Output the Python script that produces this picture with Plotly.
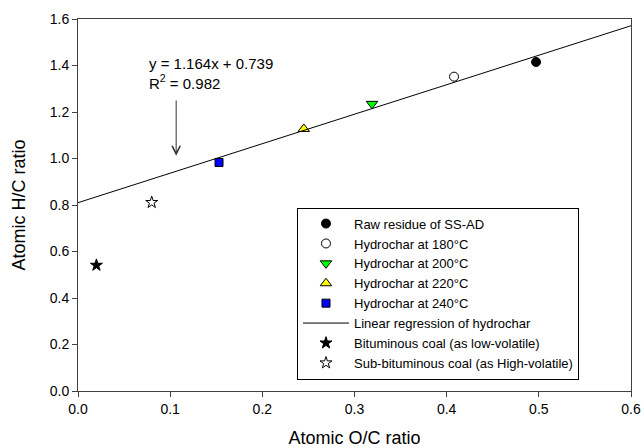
import plotly.graph_objects as go

# Data (atomic O/C, atomic H/C)
raw_x, raw_y = [0.497], [1.415]
h180_x, h180_y = [0.408], [1.352]
h200_x, h200_y = [0.319], [1.235]
h220_x, h220_y = [0.245], [1.127]
h240_x, h240_y = [0.153], [0.983]
reg_x, reg_y = [0.0, 0.6], [0.81, 1.571]
bit_x, bit_y = [0.020], [0.541]
sub_x, sub_y = [0.080], [0.811]

x_ticks = [0.0, 0.1, 0.2, 0.3, 0.4, 0.5, 0.6]
y_ticks = [0.0, 0.2, 0.4, 0.6, 0.8, 1.0, 1.2, 1.4, 1.6]

eq_text = "y = 1.164x + 0.739<br>R<sup>2</sup> = 0.982"
arrow_x, arrow_tail_y, arrow_head_y = 0.1065, 1.256, 1.012
eq_x, eq_y = 0.0745, 1.365

FONT = "Liberation Sans, Arial, sans-serif"

fig = go.Figure()

def add_marker(x, y, name, symbol, color, size, line_color="black"):
    fig.add_trace(go.Scatter(
        x=x, y=y, mode="markers", name=name,
        marker=dict(symbol=symbol, color=color, size=size,
                    line=dict(color=line_color, width=1)),
    ))

add_marker(raw_x, raw_y, "Raw residue of SS-AD", "circle", "black", 9)
add_marker(h180_x, h180_y, "Hydrochar at 180°C", "circle", "white", 9)
add_marker(h200_x, h200_y, "Hydrochar at 200°C", "triangle-down", "#00ff00", 10)
add_marker(h220_x, h220_y, "Hydrochar at 220°C", "triangle-up", "#ffff00", 10)
add_marker(h240_x, h240_y, "Hydrochar at 240°C", "square", "#0000ff", 8)
fig.add_trace(go.Scatter(
    x=reg_x, y=reg_y, mode="lines", name="Linear regression of hydrochar",
    line=dict(color="black", width=1),
))
add_marker(bit_x, bit_y, "Bituminous coal (as low-volatile)", "star", "black", 9)
add_marker(sub_x, sub_y, "Sub-bituminous coal (as High-volatile)", "star", "white", 9)

fig.add_annotation(
    x=eq_x, y=eq_y, xref="x", yref="y", text=eq_text, showarrow=False,
    xanchor="left", yanchor="middle", align="left",
    font=dict(family=FONT, size=15, color="black"),
)
fig.add_annotation(
    x=arrow_x, y=arrow_head_y, ax=arrow_x, ay=arrow_tail_y,
    xref="x", yref="y", axref="x", ayref="y", text="",
    showarrow=True, arrowhead=5, arrowsize=1.6, arrowwidth=1, arrowcolor="#333333",
)

axis_common = dict(
    showline=True, linecolor="#404040", linewidth=1, mirror=True,
    ticks="outside", ticklen=5, tickcolor="#404040", tickwidth=1,
    showgrid=False, zeroline=False,
    tickfont=dict(family=FONT, size=14, color="black"),
)

fig.update_xaxes(
    range=[0, 0.6], tickvals=x_ticks, tickformat=".1f", automargin=False,
    title=dict(text="Atomic O/C ratio", font=dict(family=FONT, size=18, color="black")),
    **axis_common,
)
fig.update_yaxes(
    range=[0, 1.6], tickvals=y_ticks, tickformat=".1f", automargin="left",
    title=dict(text="Atomic H/C ratio", font=dict(family=FONT, size=18, color="black"), standoff=19),
    **axis_common,
)

fig.update_layout(
    width=644, height=448,
    margin=dict(l=78, r=13, t=19, b=57),
    plot_bgcolor="white", paper_bgcolor="white",
    font=dict(family=FONT, size=14, color="black"),
    showlegend=True,
    legend=dict(
        x=0.396, y=0.493, xanchor="left", yanchor="top",
        bordercolor="black", borderwidth=1, bgcolor="white",
        font=dict(family=FONT, size=13, color="black"),
        tracegroupgap=0, itemwidth=46,
    ),
)

fig.write_html(
    "out.html",
    config={"displayModeBar": False},
    post_script="document.body.style.margin='0';document.body.style.overflow='hidden';",
)
